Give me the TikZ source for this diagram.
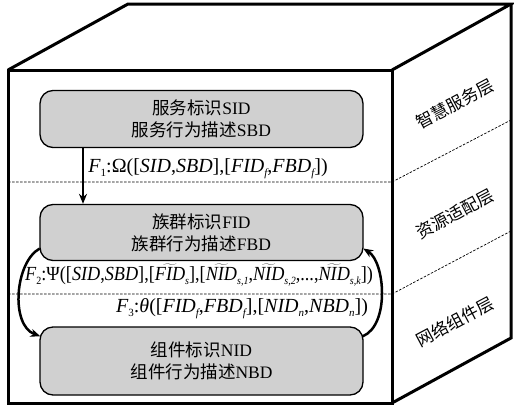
\documentclass[tikz,border=0pt]{standalone}
\usepackage{graphicx}
\usepackage{fontspec}
\setmainfont{Liberation Serif}
\newfontfamily\cjk{Noto Sans CJK SC}
\usetikzlibrary{arrows.meta,calc}
\definecolor{boxgray}{RGB}{208,208,208}
\newcommand{\sbs}[1]{\raisebox{-0.45ex}{\fontsize{11}{11}\selectfont\itshape #1}}
\newcommand{\sbu}[1]{\raisebox{-0.45ex}{\fontsize{11}{11}\selectfont #1}}
\newcommand{\wt}[1]{\ensuremath{\widetilde{\hbox{\itshape #1}}}}
\tikzset{
  cube/.style={line width=3pt, line join=miter},
  layerbox/.style={draw, line width=1.3pt, fill=boxgray, rounded corners=13pt,
    minimum width=323pt, align=center, inner sep=0pt,
    font=\fontsize{17.5}{22}\selectfont},
  flow/.style={line width=2.5pt, -{Stealth[length=10pt,width=8pt]}},
  sep/.style={dash pattern=on 2.5pt off 1.5pt, line width=0.7pt},
  formula/.style={font=\fontsize{20}{22}\selectfont, inner sep=0pt, anchor=base},
  layerlabel/.style={font=\fontsize{17}{19}\selectfont\cjk, rotate=28, inner sep=0pt}
}
\begin{document}
\begin{tikzpicture}[x=1pt,y=-1pt]
\useasboundingbox (0,0) rectangle (514,407);
% layer separators
\draw[sep] (8,182) -- (392,182) -- (511,120);
\draw[sep] (8,294) -- (392,294) -- (511,231);
% cube
\draw[cube] (8,70) rectangle (392,403);
\draw[cube] (8,70) -- (128,4) -- (511,4) -- (392,70);
\draw[cube] (511,4) -- (511,338) -- (392,403);
% boxes
\node[layerbox, minimum height=57pt] (b1) at (201.5,119) {{\cjk 服务标识}SID\\{\cjk 服务行为描述}SBD};
\node[layerbox, minimum height=56pt] (b2) at (201.5,232.5) {{\cjk 族群标识}FID\\{\cjk 族群行为描述}FBD};
\node[layerbox, minimum height=68pt] (b3) at (201.5,361) {{\cjk 组件标识}NID\\{\cjk 组件行为描述}NBD};
% layer labels
\node[layerlabel] (l1) at (455,104) {智慧服务层};
\node[layerlabel] (l2) at (455,214) {资源适配层};
\node[layerlabel] (l3) at (455,322) {网络组件层};
% arrows
\coordinate (f1x) at (83,0);
\draw[flow] (b1.south -| f1x) -- (b2.north -| f1x);
\coordinate (ls) at ($(b2.west)+(0.4,16)$);
\coordinate (le) at ($(b3.north west)+(1,10)$);
\draw[flow] (ls) .. controls (15,262) and (10,325) .. (le);
\coordinate (rs) at ($(b3.north east)+(-1,10)$);
\coordinate (re) at ($(b2.east)+(-0.4,16)$);
\draw[flow] (rs) .. controls (390,325) and (385,262) .. (re);
% formulas
\node[formula] (f1) at (208,172) {\textit{F}\sbu{1}:Ω([\textit{SID},\textit{SBD}],[\textit{FID}\sbs{f},\textit{FBD}\sbs{f}])};
\node[formula] (f2) at (199,280) {\scalebox{0.91}[1]{\textit{F}\sbu{2}:Ψ([\textit{SID},\textit{SBD}],[\wt{FID}\sbs{s}],[\wt{NID}\sbs{s,1},\wt{NID}\sbs{s,2},...,\wt{NID}\sbs{s,k}])}};
\node[formula] (f3) at (242,312) {\textit{F}\sbu{3}:\textit{θ}([\textit{FID}\sbs{f},\textit{FBD}\sbs{f}],[\textit{NID}\sbs{n},\textit{NBD}\sbs{n}])};
\end{tikzpicture}
\end{document}
